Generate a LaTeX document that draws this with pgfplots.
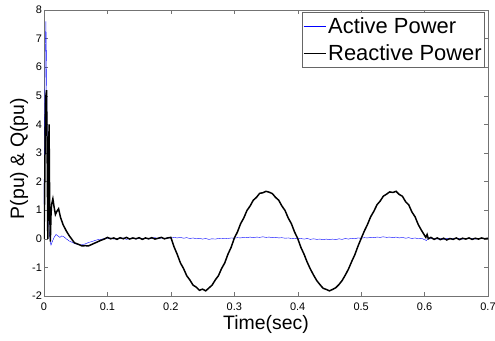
\documentclass[border=0pt]{standalone}
\usepackage{pgfplots}
\pgfplotsset{compat=1.18}
\usepackage{fontspec}
\setmainfont{Liberation Sans}
\begin{document}
\begin{tikzpicture}
\useasboundingbox (-44bp,-45bp) rectangle (451bp,296bp);
\begin{axis}[
  at={(0bp,0bp)}, anchor=south west,
  scale only axis,
  width=444bp, height=286bp,
  xmin=0, xmax=0.7, ymin=-2, ymax=8,
  xtick={0,0.1,0.2,0.3,0.4,0.5,0.6,0.7},
  ytick={-2,-1,0,1,2,3,4,5,6,7,8},
  xticklabels={0,0.1,0.2,0.3,0.4,0.5,0.6,0.7},
  yticklabels={-2,-1,0,1,2,3,4,5,6,7,8},
  tick align=inside, tick pos=both,
  major tick length=4bp,
  axis line style={black!55},
  every tick/.style={black!55},
  tick label style={font=\fontsize{11}{12}\selectfont, black},
  xlabel={Time(sec)}, ylabel={P(pu) \& Q(pu)},
  label style={font=\fontsize{19.5}{22}\selectfont},
  xlabel style={at={(axis description cs:0.5,-0.101)}, anchor=center},
  ylabel style={at={(axis description cs:-0.056,0.48)}, anchor=center},
  xticklabel style={yshift=-3bp},
  yticklabel style={xshift=1.5bp},
  legend style={at={(rel axis cs:0.993,0.993)}, anchor=north east,
    font=\fontsize{22}{24}\selectfont, draw=black!60, inner xsep=1bp, inner ysep=3.5bp,
    row sep=5.5bp, cells={anchor=west}},
]
\addplot[blue, line width=0.4pt, legend image code/.code={\draw[blue, line width=0.5pt] (0bp,0bp) -- (22bp,0bp);}] coordinates {
(0,1.2)(0.001,4.0)(0.002,6.5)(0.003,7.6)(0.004,6.0)(0.005,3.5)(0.006,1.5)(0.008,0.3)
(0.010,-0.1)(0.011,-0.22)(0.013,-0.1)(0.016,0.05)(0.019,0.15)(0.022,0.1)(0.025,0.05)
(0.028,0.1)(0.031,0.08)(0.035,0.0)(0.040,-0.08)(0.045,-0.13)(0.050,-0.18)(0.055,-0.2)
(0.060,-0.2)(0.065,-0.18)(0.070,-0.13)(0.075,-0.1)(0.080,-0.06)
(0.085,-0.03)(0.090,-0.02)(0.095,0.01)(0.100,0.0)(0.105,0.03)(0.110,-0.01)(0.115,0.02)
(0.120,0.0)(0.125,0.03)(0.130,-0.02)(0.135,0.01)(0.140,0.03)(0.145,-0.01)(0.150,0.02)
(0.155,0.0)(0.160,0.03)(0.165,-0.01)(0.170,0.02)(0.175,0.04)(0.180,0.0)(0.185,0.03)
(0.190,0.01)(0.195,0.04)(0.200,0.02)(0.205,0.05)(0.210,0.03)(0.215,0.05)(0.220,0.02)
(0.225,0.04)(0.230,0.01)(0.235,0.03)(0.240,0.0)(0.245,0.02)(0.250,-0.01)(0.255,0.01)
(0.260,-0.02)(0.265,0.0)(0.270,-0.01)(0.275,0.01)(0.280,0.0)(0.285,0.02)(0.290,0.01)
(0.295,0.03)(0.300,0.02)(0.305,0.04)(0.310,0.03)(0.315,0.05)(0.320,0.04)(0.325,0.06)
(0.330,0.04)(0.335,0.06)(0.340,0.05)(0.345,0.07)(0.350,0.05)(0.355,0.06)(0.360,0.04)
(0.365,0.05)(0.370,0.03)(0.375,0.04)(0.380,0.02)(0.385,0.03)(0.390,0.01)(0.395,0.02)
(0.400,0.0)(0.405,0.01)(0.410,-0.01)(0.415,0.01)(0.420,-0.02)(0.425,0.0)(0.430,-0.02)
(0.435,-0.01)(0.440,-0.03)(0.445,-0.01)(0.450,-0.03)(0.455,-0.01)(0.460,-0.03)(0.465,0.0)
(0.470,-0.02)(0.475,0.01)(0.480,-0.01)(0.485,0.02)(0.490,0.0)(0.495,0.03)(0.500,0.02)
(0.505,0.04)(0.510,0.03)(0.515,0.05)(0.520,0.04)(0.525,0.06)(0.530,0.05)(0.535,0.07)
(0.540,0.05)(0.545,0.06)(0.550,0.04)(0.555,0.06)(0.560,0.03)(0.565,0.05)(0.570,0.02)
(0.575,0.04)(0.580,0.01)(0.585,0.03)(0.590,0.0)(0.595,0.02)(0.600,-0.03)(0.603,-0.06)
(0.606,0.02)(0.610,0.0)(0.615,0.02)(0.620,-0.01)(0.625,0.01)(0.630,-0.02)(0.635,0.01)
(0.640,-0.01)(0.645,0.02)(0.650,0.0)(0.655,0.01)(0.660,-0.01)(0.665,0.02)(0.670,0.0)
(0.675,0.01)(0.680,-0.01)(0.685,0.01)(0.690,0.0)(0.695,0.01)(0.700,0.0)
};
\addlegendentry{Active Power}
\addplot[black, line width=1.5pt, legend image code/.code={\draw[black, line width=1.2pt] (0bp,0bp) -- (22bp,0bp);}] coordinates {
(0,0)(0.001,1.5)(0.002,4.0)(0.003,5.0)(0.004,5.2)(0.005,3.0)(0.006,0.0)(0.007,2.0)
(0.008,4.0)(0.009,1.0)(0.010,-0.1)(0.011,0.8)(0.012,1.2)(0.014,1.4)(0.016,1.1)
(0.018,0.85)(0.020,0.95)(0.023,1.05)(0.026,0.75)(0.030,0.5)(0.035,0.28)(0.040,0.1)
(0.045,-0.05)(0.048,-0.14)(0.055,-0.2)(0.060,-0.25)(0.065,-0.24)(0.070,-0.25)
(0.075,-0.2)(0.080,-0.15)(0.085,-0.1)(0.090,-0.05)(0.095,-0.01)(0.100,0.05)
(0.105,0.0)(0.110,0.03)(0.115,-0.02)(0.120,0.04)(0.125,0.0)(0.130,0.05)(0.135,-0.01)
(0.140,0.03)(0.145,0.0)(0.150,0.04)(0.155,-0.02)(0.160,0.03)(0.165,0.0)(0.170,0.04)
(0.175,-0.01)(0.180,0.02)(0.185,0.05)(0.190,0.0)(0.195,0.03)(0.200,0.05)
(0.205,-0.28)(0.210,-0.54)(0.215,-0.84)(0.220,-1.04)(0.225,-1.29)(0.230,-1.44)
(0.235,-1.62)(0.240,-1.69)(0.245,-1.80)(0.250,-1.76)(0.255,-1.82)(0.260,-1.72)
(0.265,-1.62)(0.270,-1.44)(0.275,-1.29)(0.280,-1.04)(0.285,-0.84)(0.290,-0.54)
(0.295,-0.30)(0.300,0.02)(0.305,0.24)(0.310,0.53)(0.315,0.73)(0.320,0.99)(0.325,1.15)
(0.330,1.35)(0.335,1.45)(0.340,1.59)(0.345,1.61)(0.350,1.66)(0.355,1.63)(0.360,1.58)
(0.365,1.45)(0.370,1.35)(0.375,1.15)(0.380,0.99)(0.385,0.73)(0.390,0.53)(0.395,0.24)
(0.400,0.01)(0.405,-0.30)(0.410,-0.54)(0.415,-0.82)(0.420,-1.06)(0.425,-1.27)
(0.430,-1.46)(0.435,-1.60)(0.440,-1.73)(0.445,-1.77)(0.450,-1.82)(0.455,-1.77)
(0.460,-1.71)(0.465,-1.60)(0.470,-1.46)(0.475,-1.27)(0.480,-1.06)(0.485,-0.80)
(0.490,-0.56)(0.495,-0.26)(0.500,0.01)(0.505,0.27)(0.510,0.50)(0.515,0.77)(0.520,0.96)
(0.525,1.19)(0.530,1.32)(0.535,1.49)(0.540,1.56)(0.545,1.64)(0.550,1.62)(0.555,1.66)
(0.560,1.55)(0.565,1.49)(0.570,1.30)(0.575,1.19)(0.580,0.94)(0.585,0.77)(0.590,0.50)
(0.595,0.30)(0.600,0.12)(0.602,0.05)(0.604,0.15)(0.606,0.0)(0.610,0.05)(0.615,-0.02)
(0.620,0.03)(0.625,-0.03)(0.630,0.02)(0.635,-0.04)(0.640,0.01)(0.645,-0.02)(0.650,0.03)
(0.655,-0.03)(0.660,0.02)(0.665,-0.01)(0.670,0.03)(0.675,-0.02)(0.680,0.02)(0.685,-0.01)
(0.690,0.03)(0.695,0.0)(0.700,0.02)
};
\addlegendentry{Reactive Power}
\end{axis}
\end{tikzpicture}
\end{document}
